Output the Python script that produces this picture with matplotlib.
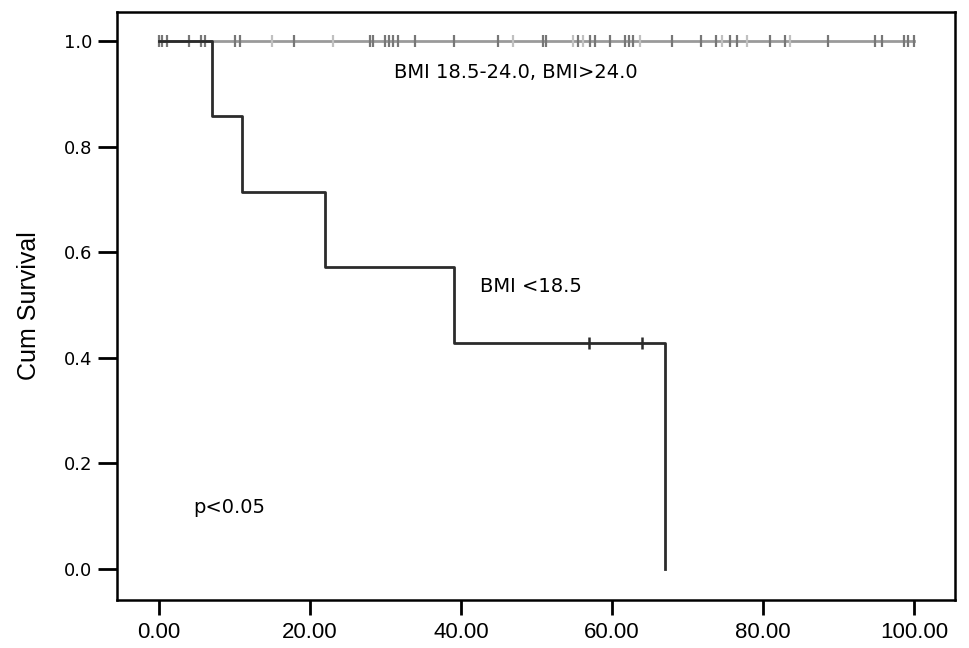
import numpy as np
import matplotlib.pyplot as plt

# Kaplan-Meier data
# BMI <18.5: event=1 death, 0 censored
low_times = [7, 11, 22, 39, 57, 64, 67]
low_events = [1, 1, 1, 1, 0, 0, 1]

# BMI 18.5-24.0 (darker censor marks), all censored
mid_times = [0, 0.4, 1.0, 4.0, 5.6, 6.1, 10.0, 10.7, 17.9, 27.9, 28.4, 29.9, 30.4,
             31.0, 31.7, 33.9, 39.0, 44.9, 50.9, 51.3, 55.5, 57.1, 57.7, 59.7, 61.7,
             62.2, 62.8, 67.9, 71.8, 73.8, 75.6, 76.5, 80.9, 82.9, 88.6, 94.8, 95.7,
             98.6, 99.2, 100.0]
# BMI >24.0 (lighter censor marks), all censored
high_times = [14.9, 23.0, 46.9, 54.8, 56.2, 63.7, 74.5, 77.8, 83.6]

labels = ["BMI 18.5-24.0, BMI>24.0", "BMI <18.5", "p<0.05"]


def km(times, events):
    t = np.array(times, float)
    e = np.array(events, int)
    order = np.argsort(t)
    t, e = t[order], e[order]
    xs, ys = [0.0], [1.0]
    s = 1.0
    n = len(t)
    cens_x, cens_y = [], []
    for i in range(len(t)):
        at_risk = n - i
        if e[i] == 1:
            s = s * (1 - 1 / at_risk)
            xs.append(t[i]); ys.append(s)
        else:
            cens_x.append(t[i]); cens_y.append(s)
    return np.array(xs), np.array(ys), cens_x, cens_y


plt.rcParams['font.family'] = ['Liberation Sans', 'DejaVu Sans']

fig = plt.figure(figsize=(9.69, 6.48), dpi=100)
ax = fig.add_axes([117 / 969, 48 / 648, (955 - 117) / 969, (600 - 12) / 648])

# top line (both upper groups stay at 1.0)
all_top = sorted(mid_times + high_times)
ax.plot([0, max(all_top)], [1, 1], color='#9a9a9a', lw=2, zorder=2)
ax.plot(high_times, np.ones(len(high_times)), ls='none', marker='|', ms=8,
        mew=1.6, color='#c0c0c0', zorder=3)
ax.plot(mid_times, np.ones(len(mid_times)), ls='none', marker='|', ms=8,
        mew=1.6, color='#777777', zorder=3)

# BMI <18.5 curve
xs, ys, cx, cy = km(low_times, low_events)
ax.step(xs, ys, where='post', color='#2b2b2b', lw=2, zorder=4)
ax.plot(cx, cy, ls='none', marker='|', ms=8, mew=1.8, color='#2b2b2b', zorder=5)

ann_font = ['DejaVu Sans']
ax.text(47.2, 0.941, labels[0], ha='center', va='center', fontsize=14, family=ann_font)
ax.text(49.3, 0.534, labels[1], ha='center', va='center', fontsize=14, family=ann_font)
ax.text(9.3, 0.116, labels[2], ha='center', va='center', fontsize=14, family=ann_font)

ax.set_xlim(-5.56, 105.4)
ax.set_ylim(-0.059, 1.055)
ax.set_xticks(np.arange(0, 101, 20))
ax.set_xticklabels(['%.2f' % v for v in np.arange(0, 101, 20)])
ax.set_yticks(np.arange(0, 1.01, 0.2))
ax.set_yticklabels(['%.1f' % v for v in np.arange(0, 1.01, 0.2)], family='DejaVu Sans')
ax.tick_params(axis='y', length=14, width=2, labelsize=13, pad=4)
ax.tick_params(axis='x', length=11, width=2, labelsize=16, pad=5)
for sp in ax.spines.values():
    sp.set_linewidth(1.8)
ax.set_ylabel('Cum Survival', fontsize=18, labelpad=16)

fig.savefig('out.png', dpi=100)
